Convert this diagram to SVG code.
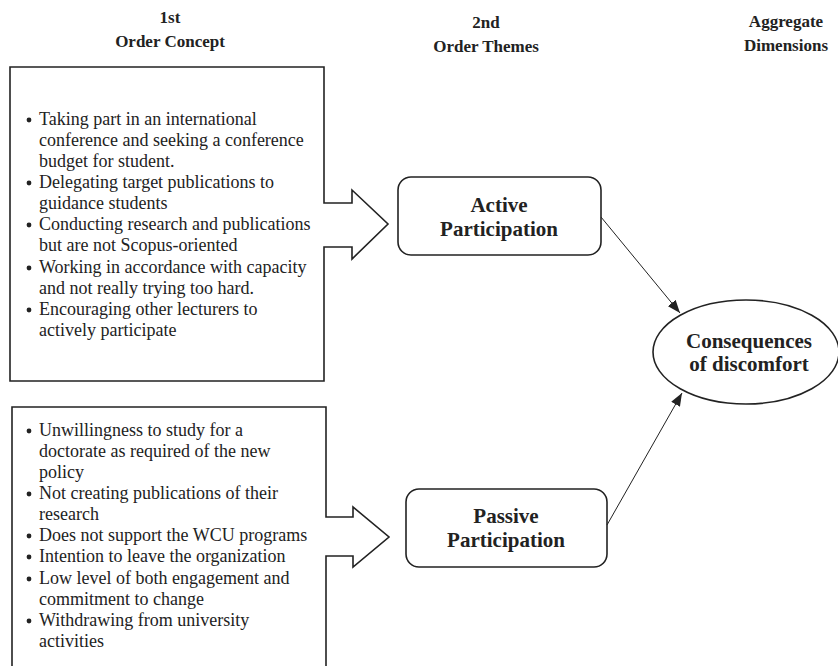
<svg xmlns="http://www.w3.org/2000/svg" width="838" height="666" viewBox="0 0 838 666">
<style>
.hd{font-family:"Liberation Serif","Times New Roman",serif;font-weight:bold;font-size:17px;fill:#222;text-anchor:middle}
.bt{font-family:"Liberation Serif","Times New Roman",serif;font-size:18px;fill:#222}
.nl{font-family:"Liberation Serif","Times New Roman",serif;font-weight:bold;font-size:21px;fill:#222;text-anchor:middle}
.shape{fill:#fff;stroke:#222;stroke-width:1.6}
.conn{fill:none;stroke:#222;stroke-width:1}
.bul{fill:#222}
</style>
<defs>
<marker id="ah" markerUnits="userSpaceOnUse" markerWidth="13" markerHeight="10" refX="13" refY="5" orient="auto">
<path d="M0,0 L13,5 L0,10 Z" fill="#222"/>
</marker>
</defs>
<rect width="838" height="666" fill="#fff"/>
<g id="headers">
<text class="hd" x="170" y="23">1st</text>
<text class="hd" x="170" y="47">Order Concept</text>
<text class="hd" x="486" y="28">2nd</text>
<text class="hd" x="486" y="52">Order Themes</text>
<text class="hd" x="786" y="27">Aggregate</text>
<text class="hd" x="786" y="51">Dimensions</text>
</g>
<g id="concepts-active">
<path class="shape" d="M10,67 H324 V203 H352 V190 L388,224 L352,259 V247 H324 V381 H10 Z"/>
<g class="bul">
<circle cx="29" cy="120" r="2.4"/>
<circle cx="29" cy="183" r="2.4"/>
<circle cx="29" cy="225" r="2.4"/>
<circle cx="29" cy="268" r="2.4"/>
<circle cx="29" cy="310" r="2.4"/>
</g>
<text class="bt">
<tspan x="39" y="125">Taking part in an international</tspan>
<tspan x="39" y="146">conference and seeking a conference</tspan>
<tspan x="39" y="167">budget for student.</tspan>
<tspan x="39" y="188">Delegating target publications to</tspan>
<tspan x="39" y="209">guidance students</tspan>
<tspan x="39" y="230">Conducting research and publications</tspan>
<tspan x="39" y="251">but are not Scopus-oriented</tspan>
<tspan x="39" y="273">Working in accordance with capacity</tspan>
<tspan x="39" y="294">and not really trying too hard.</tspan>
<tspan x="39" y="315">Encouraging other lecturers to</tspan>
<tspan x="39" y="336">actively participate</tspan>
</text>
</g>
<g id="concepts-passive">
<path class="shape" d="M12,680 V407 H326 V517 H353 V507 L389,537 L353,567 V556 H326 V680"/>
<g class="bul">
<circle cx="29" cy="431" r="2.4"/>
<circle cx="29" cy="494" r="2.4"/>
<circle cx="29" cy="536" r="2.4"/>
<circle cx="29" cy="557" r="2.4"/>
<circle cx="29" cy="579" r="2.4"/>
<circle cx="29" cy="621" r="2.4"/>
</g>
<text class="bt">
<tspan x="39" y="436">Unwillingness to study for a</tspan>
<tspan x="39" y="457">doctorate as required of the new</tspan>
<tspan x="39" y="478">policy</tspan>
<tspan x="39" y="499">Not creating publications of their</tspan>
<tspan x="39" y="520">research</tspan>
<tspan x="39" y="541">Does not support the WCU programs</tspan>
<tspan x="39" y="562">Intention to leave the organization</tspan>
<tspan x="39" y="584">Low level of both engagement and</tspan>
<tspan x="39" y="605">commitment to change</tspan>
<tspan x="39" y="626">Withdrawing from university</tspan>
<tspan x="39" y="647">activities</tspan>
</text>
</g>
<g id="active">
<rect class="shape" x="398" y="177" width="203" height="78" rx="13"/>
<text class="nl" x="499" y="212">Active</text>
<text class="nl" x="499" y="236">Participation</text>
</g>
<g id="passive">
<rect class="shape" x="406" y="489" width="201" height="78" rx="13"/>
<text class="nl" x="506" y="523">Passive</text>
<text class="nl" x="506" y="547">Participation</text>
</g>
<g id="consequences">
<ellipse class="shape" cx="746" cy="352" rx="93" ry="52"/>
<text class="nl" x="749" y="348">Consequences</text>
<text class="nl" x="749" y="371">of discomfort</text>
</g>
<g id="connectors">
<line class="conn" x1="601" y1="217" x2="680" y2="313" marker-end="url(#ah)"/>
<line class="conn" x1="607" y1="525" x2="682" y2="393" marker-end="url(#ah)"/>
</g>
</svg>
